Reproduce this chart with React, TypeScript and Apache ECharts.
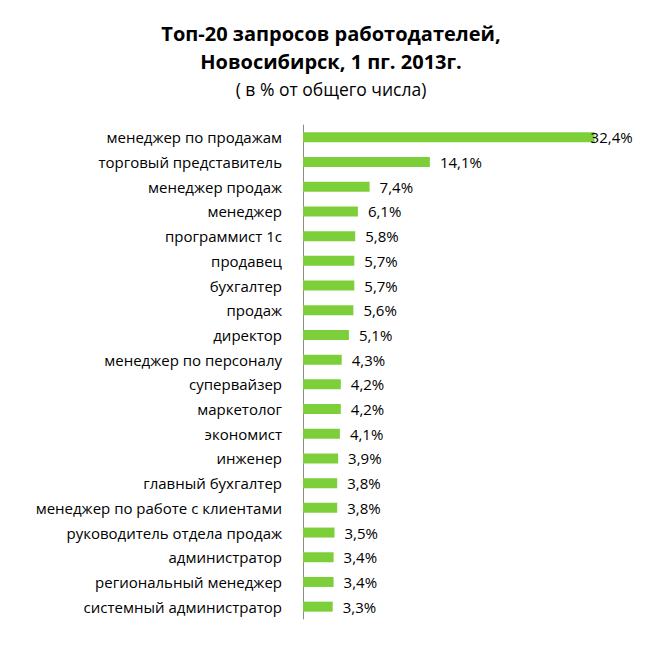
import React, { useEffect, useRef } from "react";
import * as echarts from "echarts";

const categories = [
  "менеджер по продажам",
  "торговый представитель",
  "менеджер продаж",
  "менеджер",
  "программист 1с",
  "продавец",
  "бухгалтер",
  "продаж",
  "директор",
  "менеджер по персоналу",
  "супервайзер",
  "маркетолог",
  "экономист",
  "инженер",
  "главный бухгалтер",
  "менеджер по работе с клиентами",
  "руководитель отдела продаж",
  "администратор",
  "региональный менеджер",
  "системный администратор",
];
const values = [32.4, 14.1, 7.4, 6.1, 5.8, 5.7, 5.7, 5.6, 5.1, 4.3, 4.2, 4.2, 4.1, 3.9, 3.8, 3.8, 3.5, 3.4, 3.4, 3.3];

const titleLine1 = "Топ-20 запросов работодателей,";
const titleLine2 = "Новосибирск, 1 пг. 2013г.";
const subtitle = "( в % от общего числа)";

export default function App() {
  const ref = useRef<HTMLDivElement>(null);
  useEffect(() => {
    const chart = echarts.init(ref.current!, undefined, { renderer: "svg" });
    const font = "Open Sans";
    chart.setOption({
      animation: false,
      backgroundColor: "#ffffff",
      title: [
        {
          text: titleLine1 + "\n" + titleLine2,
          left: 318,
          textAlign: "center",
          top: 6,
          textStyle: { fontFamily: font, fontSize: 20, fontWeight: "bold", color: "#000", lineHeight: 28 },
        },
        {
          text: subtitle,
          left: 318,
          textAlign: "center",
          top: 67,
          textStyle: { fontFamily: font, fontSize: 17.5, fontWeight: "normal", color: "#000" },
        },
      ],
      grid: { left: 295, top: 117, width: 315, height: 494, containLabel: false },
      xAxis: {
        type: "value",
        min: 0,
        max: 35,
        show: false,
      },
      yAxis: {
        type: "category",
        data: categories,
        inverse: true,
        axisLine: { show: true, lineStyle: { color: "#8c8c8c", width: 1 } },
        axisTick: { show: false },
        axisLabel: { fontFamily: font, fontSize: 15, color: "#000", margin: 21 },
      },
      series: [
        {
          type: "bar",
          data: values.map((v, i) =>
            i === 0 ? { value: v, label: { offset: [-14, 0] } } : v
          ),
          barWidth: 10,
          itemStyle: { color: "#7dcf3a" },
          label: {
            show: true,
            position: "right",
            distance: 10,
            fontFamily: font,
            fontSize: 15,
            color: "#000",
            formatter: (p: any) => String(p.value).replace(".", ",") + "%",
          },
        },
      ],
    });
    return () => chart.dispose();
  }, []);
  return <div ref={ref} style={{ width: 643, height: 647 }} />;
}
